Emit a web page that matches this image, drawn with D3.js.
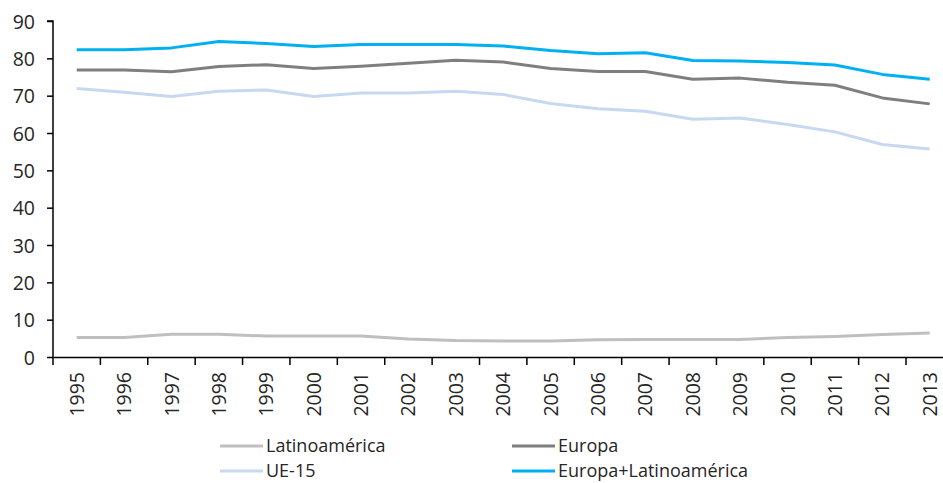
<!DOCTYPE html>
<html><head><meta charset="utf-8">
<script src="https://cdn.jsdelivr.net/npm/d3@7"></script>
<style>
html,body{margin:0;padding:0;background:#fff;}
svg text{font-family:"Open Sans",sans-serif;fill:#262626;}
</style></head>
<body><svg id="c" width="943" height="483"></svg>
<script>
const years = ["1995","1996","1997","1998","1999","2000","2001","2002","2003","2004","2005","2006","2007","2008","2009","2010","2011","2012","2013"];
const latinoamerica = [5.2,5.2,6.1,6.1,5.6,5.6,5.6,4.8,4.4,4.3,4.3,4.6,4.7,4.7,4.7,5.2,5.5,6.0,6.4];
const europa = [76.9,76.9,76.4,77.8,78.3,77.3,77.9,78.7,79.5,79.0,77.3,76.5,76.5,74.4,74.7,73.6,72.8,69.4,67.8];
const ue15 = [71.9,70.9,69.8,71.2,71.5,69.8,70.7,70.7,71.2,70.3,67.9,66.5,65.8,63.7,64.0,62.3,60.3,56.9,55.7];
const europaLatam = [82.3,82.3,82.8,84.5,84.0,83.2,83.7,83.7,83.7,83.3,82.1,81.2,81.5,79.4,79.3,78.9,78.2,75.7,74.4];
const yTicks = [0,10,20,30,40,50,60,70,80,90];
const seriesNames = ["Latinoamérica","Europa","UE-15","Europa+Latinoamérica"];
const seriesColors = ["#BFBFBF","#7F7F7F","#C6D9F1","#00B0F0"];
const seriesData = [latinoamerica, europa, ue15, europaLatam];

const svg = d3.select("#c");
const x0 = 53, bw = 47.39;
const fs = "19.5px";
const x = d3.scaleBand().domain(years).range([x0, x0 + bw*years.length]).paddingInner(0).paddingOuter(0);
const y = d3.scaleLinear().domain([0,90]).range([357,21]);

// Y axis
const ya = svg.append("g").attr("transform",`translate(${x0},0)`)
  .call(d3.axisLeft(y).tickValues(yTicks).tickSize(6).tickPadding(12).tickFormat(d3.format("d")));
ya.select(".domain").attr("stroke","#000").attr("stroke-width",1.5).attr("d",`M-6,${y(90)}H0V${y(0)}`);
ya.selectAll(".tick line").attr("stroke","#000").attr("stroke-width",1.5);
ya.selectAll(".tick text").style("font-size",fs).attr("fill","#262626").attr("dy","0.36em");

// X axis
const xa = svg.append("g").attr("transform",`translate(0,${y(0)})`)
  .call(d3.axisBottom(x).tickSize(0));
xa.select(".domain").attr("stroke","#000").attr("stroke-width",1.5);
xa.selectAll(".tick text").style("font-size",fs).attr("fill","#262626")
  .attr("transform","rotate(-90)").attr("x",-15).attr("y",0).attr("dy","0.36em").attr("text-anchor","end");
const bounds = years.map(d => x(d)).concat([x.range()[1]]);
xa.selectAll(".bt").data(bounds).join("line").attr("class","bt")
  .attr("x1",d=>d).attr("x2",d=>d).attr("y1",0).attr("y2",8)
  .attr("stroke","#000").attr("stroke-width",1.5);

// Lines
const line = d3.line().x((d,i)=>x(years[i])+x.bandwidth()/2).y(d=>y(d));
seriesData.forEach((s,k)=>{
  svg.append("path").datum(s).attr("d",line).attr("fill","none")
    .attr("stroke",seriesColors[k]).attr("stroke-width",3).attr("stroke-linejoin","round");
});

// Legend
const legPos = [[220,446],[512,446],[220,471],[512,471]];
seriesNames.forEach((n,k)=>{
  const [lx,ly] = legPos[k];
  const g = svg.append("g").attr("transform",`translate(${lx},${ly})`);
  g.append("line").attr("x1",0).attr("x2",43).attr("y1",0).attr("y2",0)
    .attr("stroke",seriesColors[k]).attr("stroke-width",3);
  g.append("text").attr("x",46).attr("y",0).attr("dy","0.35em").style("font-size","18px").text(n);
});
</script></body></html>
